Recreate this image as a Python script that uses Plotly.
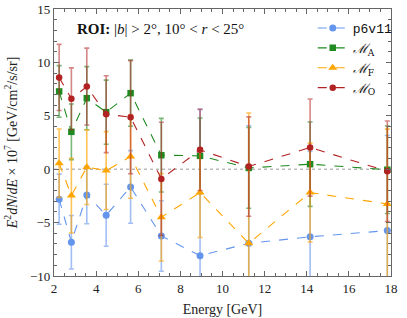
import plotly.graph_objects as go

energy = [2.244, 2.825, 3.557, 4.477, 5.637, 7.096, 8.934, 11.247, 14.159, 17.825]

p6v11 = [-2.81, -6.84, -2.41, -4.31, -1.66, -6.25, -8.10, -6.94, -6.33, -5.75]
p6v11_err = [2.35, 2.5, 2.7, 2.9, 3.4, 3.3, 13.7, 11.0, 8.0, 8.9]

m_a = [7.28, 3.50, 6.65, 5.34, 7.12, 1.31, 1.25, 0.12, 0.47, -0.05]
m_a_err = [2.42, 2.6, 2.95, 3.0, 3.1, 3.45, 3.55, 3.78, 3.95, 4.1]

m_f = [0.56, -2.47, 0.19, -0.13, 1.18, -4.50, -2.19, -6.94, -2.19, -3.25]
m_f_err = [3.2, 3.5, 3.5, 3.65, 3.9, 4.1, 4.2, 12.2, 4.63, 7.0]

m_o = [8.59, 6.59, 7.74, 5.15, 4.87, -0.91, 1.81, 0.25, 2.03, -0.19]
m_o_err = [3.1, 2.9, 3.6, 3.6, 5.3, 5.3, 3.8, 4.65, 4.55, 4.7]

series = [
    ("<span style='font-family:Liberation Mono'>p6v11</span>", p6v11, p6v11_err,
     "#6495ED", "rgba(100,149,237,0.6)", "circle", 7),
    ("<i>ℳ</i><sub>A</sub>", m_a, m_a_err, "#1f8a1f", "rgba(31,138,31,0.6)", "square", 6.5),
    ("<i>ℳ</i><sub>F</sub>", m_f, m_f_err, "#FFA500", "rgba(255,165,0,0.65)", "triangle-up", 8),
    ("<i>ℳ</i><sub>O</sub>", m_o, m_o_err, "#B22222", "rgba(178,34,34,0.55)", "circle", 6.5),
]

fig = go.Figure()
for name, vals, errs, col, ecol, sym, size in series:
    fig.add_trace(go.Scatter(
        x=energy, y=vals, name=name, mode="lines+markers",
        line=dict(color=col, width=1.1, dash="dash"),
        marker=dict(color=col, symbol=sym, size=size),
        error_y=dict(type="data", array=errs, color=ecol, thickness=1.6, width=2.5),
    ))

fig.add_hline(y=0, line=dict(color="#999999", width=1, dash="dot"), layer="below")

axis_common = dict(
    showgrid=False, zeroline=False, showline=True, linecolor="#666666", linewidth=1.2,
    mirror="allticks", ticks="inside", ticklen=5, tickcolor="#666666", automargin=False,
    tickfont=dict(family="Liberation Serif", size=13, color="#222222"),
)

fig.update_xaxes(
    range=[2, 18], tickvals=[2, 4, 6, 8, 10, 12, 14, 16, 18],
    minor=dict(ticks="inside", ticklen=3, dtick=0.5, tickcolor="#666666"),
    title=dict(text="Energy [GeV]", font=dict(family="Liberation Serif", size=14, color="#222222"), standoff=9),
    **axis_common,
)
fig.update_yaxes(
    range=[-10, 15], tickvals=[-10, -5, 0, 5, 10, 15],
    ticktext=["−10", "−5", "0", "5", "10", "15"],
    minor=dict(ticks="inside", ticklen=3, dtick=1, tickcolor="#666666"),
    title=dict(text="<i>E</i><sup>2</sup><i>dN</i>/<i>dE</i> × 10<sup>7</sup> [GeV/cm<sup>2</sup>/s/sr]",
               font=dict(family="Liberation Serif", size=14, color="#222222"), standoff=9),
    **axis_common,
)

fig.add_annotation(
    xref="paper", yref="paper", x=0.063, y=0.924, xanchor="left", yanchor="middle",
    text="<b>ROI:</b> |<i>b</i>| &gt; 2°, 10° &lt; <i>r</i> &lt; 25°",
    showarrow=False, font=dict(family="Liberation Serif", size=15, color="#111111"),
)

fig.update_layout(
    width=407, height=318,
    margin=dict(l=54, r=11, t=9, b=42),
    paper_bgcolor="white", plot_bgcolor="white",
    showlegend=True,
    legend=dict(x=1.02, y=0.985, xanchor="right", yanchor="top",
                bgcolor="rgba(255,255,255,0)", tracegroupgap=0,
                font=dict(family="DejaVu Serif", size=13, color="#111111"),
                itemwidth=30),
)

fig.write_html("out.html", config={"displayModeBar": False},
               post_script="document.body.style.margin='0';document.body.style.overflow='hidden';")
